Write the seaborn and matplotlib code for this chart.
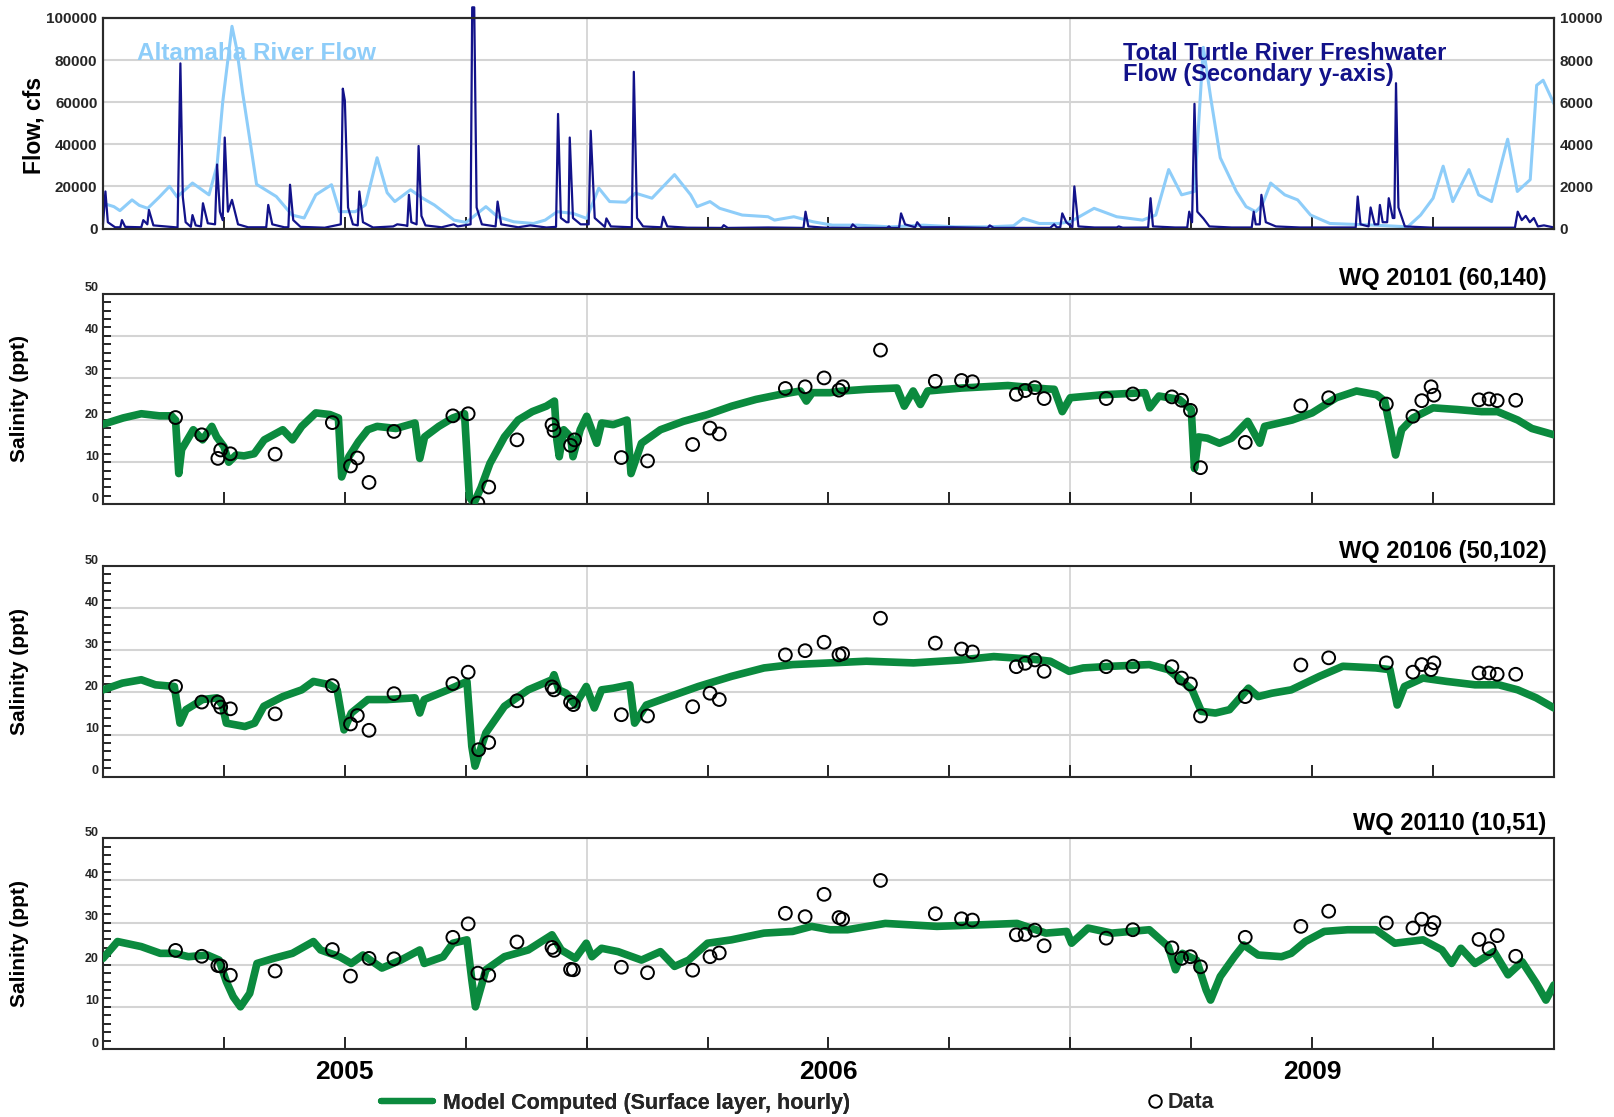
import numpy as np
import pandas as pd
import matplotlib
matplotlib.use("Agg")
import matplotlib.pyplot as plt
import matplotlib.transforms as mtransforms
from matplotlib.lines import Line2D
import seaborn as sns

# ---------------- data (x = month position on the 3-segment axis, 0..36) ----------------
year_labels = ["2005", "2006", "2009"]
year_label_pos = [6, 18, 30]
segment_breaks = [12, 24]
quarter_ticks = [3, 6, 9, 12, 15, 18, 21, 24, 27, 30, 33]

# Altamaha River flow (cfs, primary axis)
alt_month = [0, 0.27, 0.42, 0.72, 0.9, 1.11, 1.4, 1.65, 1.84, 2.22, 2.63, 2.83, 2.97, 3.2, 3.32,
             3.46, 3.66, 3.81, 4.30, 4.69, 4.99, 5.28, 5.67, 5.87, 6.26, 6.51, 6.80, 7.05, 7.24,
             7.63, 7.93, 8.22, 8.71, 9.01, 9.50, 9.79, 10.19, 10.68, 10.97, 11.27, 11.66, 12.0,
             12.3, 12.57, 12.97, 13.21, 13.62, 14.18, 14.58, 14.74, 15.06, 15.3, 15.86, 16.5,
             16.66, 17.14, 17.62, 18.1, 18.74, 19.54, 20.35, 21.15, 21.95, 22.59, 22.83, 23.23,
             23.71, 24.0, 24.59, 25.15, 25.79, 26.12, 26.44, 26.76, 27.08, 27.3, 27.48, 27.72,
             28.12, 28.36, 28.6, 28.76, 28.97, 29.32, 29.64, 29.96, 30.44, 31.56, 32.37, 32.69,
             33.0, 33.25, 33.49, 33.89, 34.13, 34.45, 34.85, 35.09, 35.41, 35.57, 35.73, 36.0]
alt_flow = [12000, 10400, 8500, 13600, 11000, 9600, 15000, 20000, 15000, 21600, 16000, 30000,
            60000, 96000, 85000, 65000, 40000, 21000, 15200, 6400, 5000, 16000, 20800, 8000,
            8000, 11200, 33600, 17000, 12800, 18400, 14400, 11200, 4000, 2900, 10400, 5600,
            3200, 2400, 4000, 8000, 7200, 4800, 19200, 12800, 12500, 16800, 14400, 25600,
            16000, 10400, 12800, 9600, 6400, 5600, 4000, 5600, 3200, 1600, 1600, 800, 1600,
            800, 800, 1300, 4800, 2400, 2400, 3200, 9600, 5600, 4000, 6400, 28000, 16000,
            17600, 86000, 62400, 33600, 17600, 10400, 8000, 11200, 21600, 16000, 13600, 6400,
            2400, 1600, 800, 6400, 14400, 29600, 12800, 28000, 16000, 12800, 42400, 17600,
            23200, 68000, 70400, 59200]

# Total Turtle River freshwater flow (cfs, secondary axis)
turtle_month = [0.0, 0.06, 0.12, 0.3, 0.43, 0.47, 0.55, 0.95, 1.0, 1.1,
                1.14, 1.25, 1.85, 1.92, 1.98, 2.05, 2.18, 2.22, 2.3, 2.43,
                2.48, 2.6, 2.78, 2.83, 2.9, 2.97, 3.02, 3.1, 3.2, 3.35,
                3.6, 4.05, 4.1, 4.2, 4.5, 4.6, 4.64, 4.72, 4.9, 5.5,
                5.9, 5.95, 6.0, 6.08, 6.2, 6.32, 6.36, 6.45, 6.7, 7.2,
                7.3, 7.5, 7.55, 7.59, 7.65, 7.78, 7.83, 7.9, 8.0, 8.4,
                8.7, 8.8, 9.12, 9.16, 9.21, 9.27, 9.4, 9.74, 9.79, 9.88,
                10.3, 10.6, 11.0, 11.24, 11.29, 11.36, 11.5, 11.55, 11.58, 11.66,
                11.85, 12.05, 12.1, 12.2, 12.45, 12.49, 12.6, 13.12, 13.17, 13.25,
                13.4, 13.85, 13.9, 14.0, 14.5, 15.35, 15.4, 15.5, 16.5, 17.38,
                17.43, 17.5, 17.9, 18.55, 18.6, 18.7, 19.45, 19.5, 19.55, 19.75,
                19.8, 19.9, 20.15, 20.2, 20.3, 21.1, 21.95, 22.0, 22.1, 23.5,
                23.6, 23.66, 23.75, 23.8, 23.9, 24.05, 24.1, 24.2, 24.6, 25.15,
                25.2, 25.3, 25.93, 25.99, 26.05, 26.6, 26.9, 26.95, 27.02, 27.08,
                27.15, 27.3, 27.45, 28.0, 28.5, 28.55, 28.6, 28.7, 28.74, 28.85,
                29.1, 29.7, 30.5, 31.08, 31.13, 31.2, 31.4, 31.45, 31.55, 31.64,
                31.68, 31.75, 31.86, 31.9, 32.0, 32.04, 32.08, 32.14, 32.3, 33.0,
                34.5, 35.03, 35.1, 35.2, 35.3, 35.4, 35.5, 35.6, 35.75, 36.0]
turtle_flow = [200, 1760, 300, 60, 60, 400, 80, 60, 400, 200,
               880, 150, 50, 7840, 1500, 300, 80, 640, 150, 100,
               1200, 250, 200, 3040, 800, 400, 4320, 800, 1360, 200,
               60, 60, 1120, 200, 60, 60, 2080, 400, 80, 40,
               200, 6640, 6080, 1000, 200, 150, 1760, 300, 50, 100,
               200, 150, 120, 1600, 300, 200, 3920, 600, 150, 60,
               200, 100, 200, 10500, 10500, 1000, 200, 100, 1280, 200,
               60, 150, 50, 80, 5440, 500, 300, 300, 4320, 500,
               200, 200, 4640, 500, 80, 480, 100, 60, 7440, 500,
               100, 60, 560, 100, 40, 30, 160, 30, 50, 30,
               800, 100, 40, 30, 200, 30, 30, 100, 30, 30,
               720, 200, 60, 300, 60, 60, 30, 150, 30, 30,
               200, 60, 60, 720, 300, 60, 2000, 100, 50, 50,
               100, 40, 50, 1440, 100, 50, 50, 800, 300, 5920,
               800, 480, 100, 50, 50, 800, 200, 200, 1600, 300,
               100, 50, 50, 50, 1520, 200, 100, 1000, 200, 200,
               1120, 300, 300, 1440, 500, 500, 6900, 1000, 100, 40,
               40, 40, 800, 400, 600, 300, 500, 100, 150, 50]

# WQ 20101 (60,140)
m1_month = [0, 0.5, 0.95, 1.4, 1.7, 1.8, 1.88, 1.95, 2.24, 2.47, 2.7, 2.82, 3.0, 3.12, 3.3, 3.5,
            3.75, 4.0, 4.46, 4.7, 4.93, 5.28, 5.63, 5.84, 5.92, 6.1, 6.34, 6.57, 6.8, 7.27, 7.74,
            7.86, 7.98, 8.33, 8.68, 8.97, 9.09, 9.2, 9.38, 9.6, 9.96, 10.3, 10.65, 11.0, 11.2,
            11.26, 11.32, 11.43, 11.6, 11.66, 11.84, 12.0, 12.25, 12.37, 12.66, 13.0, 13.1,
            13.36, 13.83, 14.4, 15.0, 15.6, 16.2, 16.76, 17.3, 17.45, 17.6, 18.04, 18.35, 18.94,
            19.7, 19.88, 20.1, 20.28, 20.46, 21.3, 22.45, 23.4, 23.6, 23.8, 24.0, 24.8, 25.85,
            25.97, 26.2, 26.7, 27.0, 27.08, 27.18, 27.4, 27.7, 28.0, 28.4, 28.7, 28.82, 29.5,
            30.0, 30.6, 31.1, 31.6, 31.8, 32.07, 32.22, 32.5, 33.0, 33.6, 34.2, 34.6, 35.1,
            35.45, 36.0]
m1_sal = [19, 20.5, 21.5, 21, 21, 20, 7.3, 13, 17.7, 15.3, 18.5, 16, 13.7, 10, 11.7, 11.5, 12,
          15.3, 17.7, 15.3, 18.5, 21.7, 21.3, 20.5, 6.5, 11.3, 14.9, 17.7, 18.5, 18, 19.3, 10.9,
          16, 18.5, 20.5, 21.5, 1.75, 0.2, 4, 9.7, 16, 20, 22, 23.3, 24.5, 15.3, 11.3, 17.7, 16,
          11.3, 17.7, 20.9, 14.5, 19.3, 18.9, 20, 7.3, 14.5, 17.7, 19.7, 21.3, 23.3, 24.9, 26,
          26.9, 24.5, 26.5, 26.5, 26.9, 27.3, 27.6, 23.3, 26.9, 23.7, 26.9, 27.6, 28.2, 27.4,
          27.3, 22, 25.3, 26, 26.5, 22.9, 25.7, 24.9, 22.5, 8.5, 16, 15.7, 14.5, 15.7, 19.7,
          14.5, 18.5, 20, 21.7, 25.3, 26.9, 26, 24.5, 11.7, 17.7, 20.5, 22.9, 22.5, 22, 22, 20,
          18, 16.5]
d1_month = [1.80, 2.45, 2.85, 2.92, 3.16, 4.27, 5.69, 6.14, 6.31, 6.60, 7.22, 8.68, 9.06, 9.30,
            9.57, 10.27, 11.14, 11.19, 11.60, 11.70, 12.86, 13.51, 14.63, 15.06, 15.29, 16.93,
            17.42, 17.89, 18.26, 18.35, 19.29, 20.65, 21.30, 21.57, 22.66, 22.88, 23.12, 23.35,
            24.89, 25.55, 26.52, 26.76, 26.98, 27.23, 28.34, 29.72, 30.41, 31.84, 32.50, 32.72,
            32.95, 33.02, 34.14, 34.39, 34.59, 35.05]
d1_sal = [20.6, 16.5, 10.9, 12.9, 12.0, 11.9, 19.4, 9.1, 11.0, 5.2, 17.3, 21.0, 21.5, 0.3, 4.1,
          15.3, 18.9, 17.5, 14.0, 15.3, 11.1, 10.3, 14.2, 18.1, 16.7, 27.5, 27.9, 30.0, 27.1,
          27.9, 36.6, 29.2, 29.4, 29.1, 26.1, 27.0, 27.7, 25.1, 25.1, 26.2, 25.5, 24.7, 22.3,
          8.7, 14.7, 23.4, 25.3, 23.8, 20.9, 24.6, 27.9, 25.9, 24.8, 25.0, 24.6, 24.7]

# WQ 20106 (50,102)
m2_month = [0, 0.48, 0.95, 1.3, 1.77, 1.91, 2.06, 2.47, 2.82, 2.96, 3.06, 3.29, 3.52, 3.76,
            3.99, 4.46, 4.93, 5.22, 5.63, 5.81, 5.98, 6.16, 6.57, 7.04, 7.74, 7.86, 7.97, 8.56,
            9.03, 9.15, 9.23, 9.5, 9.96, 10.55, 11.14, 11.19, 11.31, 11.49, 11.72, 11.99, 12.19,
            12.37, 12.66, 13.07, 13.19, 13.48, 14.06, 14.77, 15.59, 16.4, 17.11, 18.04, 18.94,
            20.11, 21.28, 22.1, 23.04, 23.5, 23.97, 24.32, 25.03, 25.96, 26.43, 26.78, 27.02,
            27.25, 27.6, 27.95, 28.42, 28.66, 29.0, 29.48, 30.18, 30.76, 31.58, 31.93, 32.11,
            32.29, 32.75, 33.34, 34.04, 34.63, 35.1, 35.56, 36.0]
m2_sal = [20.6, 22.2, 23, 21.8, 21.4, 12.7, 15.9, 18.3, 18.7, 17, 12.7, 12.3, 11.9, 12.7, 16.7,
          19, 20.6, 22.6, 21.8, 20.6, 11.1, 15.1, 18.3, 18.3, 18.7, 15.1, 18.3, 20.6, 22.6, 7.2,
          2.5, 10.4, 16.7, 20.6, 23, 24.2, 20.6, 19.8, 17, 21.4, 16.3, 20.6, 21, 21.8, 12.7, 17,
          19, 21.4, 23.8, 25.8, 26.6, 27, 27.4, 27, 27.7, 28.5, 27.9, 27.4, 25, 25.8, 26.2,
          26.6, 25.4, 22.6, 20.6, 15.5, 15.1, 15.9, 21, 19, 19.8, 20.6, 23.8, 26.2, 25.8, 25.4,
          17, 21.4, 23.4, 22.6, 21.8, 21.8, 20.6, 18.7, 16.3]
d2_month = [1.80, 2.45, 2.85, 2.92, 3.16, 4.27, 5.69, 6.14, 6.31, 6.60, 7.22, 8.68, 9.06, 9.32,
            9.57, 10.27, 11.14, 11.19, 11.60, 11.67, 12.86, 13.51, 14.63, 15.06, 15.29, 16.93,
            17.42, 17.89, 18.26, 18.35, 19.29, 20.65, 21.30, 21.57, 22.66, 22.88, 23.12, 23.35,
            24.89, 25.55, 26.52, 26.76, 26.98, 27.23, 28.34, 29.72, 30.41, 31.84, 32.50, 32.72,
            32.95, 33.02, 34.14, 34.39, 34.59, 35.05]
d2_sal = [21.4, 17.7, 17.7, 16.5, 16.1, 14.9, 21.6, 12.5, 14.5, 11.0, 19.7, 22.1, 24.8, 6.4, 8.1,
          18.0, 21.3, 20.6, 17.7, 17.1, 14.7, 14.4, 16.6, 19.8, 18.3, 28.9, 29.9, 31.9, 28.9,
          29.2, 37.6, 31.7, 30.3, 29.6, 26.1, 26.9, 27.7, 25.0, 26.1, 26.2, 26.1, 23.4, 22.0,
          14.4, 19.0, 26.5, 28.2, 27.0, 24.8, 26.6, 25.4, 27.0, 24.6, 24.6, 24.3, 24.3]

# WQ 20110 (10,51)
m3_month = [0, 0.36, 0.95, 1.42, 1.77, 2.12, 2.59, 2.88, 3.06, 3.23, 3.41, 3.64, 3.82, 4.23,
            4.7, 5.22, 5.4, 5.87, 6.16, 6.45, 6.92, 7.39, 7.86, 7.97, 8.44, 8.68, 9.03, 9.15,
            9.24, 9.5, 9.96, 10.55, 11.14, 11.37, 11.72, 11.99, 12.13, 12.37, 12.78, 13.36,
            13.83, 14.18, 14.53, 15.0, 15.59, 16.4, 17.11, 17.58, 18.04, 18.47, 19.41, 20.69,
            21.86, 22.68, 23.39, 23.91, 24.03, 24.44, 25.03, 25.96, 26.43, 26.61, 26.78, 27.13,
            27.37, 27.48, 27.72, 28.07, 28.3, 28.66, 29.24, 29.48, 29.83, 30.3, 30.88, 31.58,
            32.05, 32.75, 33.22, 33.46, 33.69, 34.04, 34.51, 34.86, 35.21, 35.56, 35.8, 36.0]
m3_sal = [21.5, 25.5, 24.3, 22.7, 22.7, 21.9, 22.3, 21.1, 16, 12.4, 10, 13.2, 20.3, 21.5, 22.7,
          25.5, 23.5, 21.9, 20.3, 22.3, 19.2, 21.1, 23.5, 20.3, 21.9, 25.1, 25.9, 16.4, 10,
          18.8, 21.9, 23.5, 27.1, 23.5, 21.5, 25.1, 21.9, 23.9, 23.1, 21.1, 23.1, 19.6, 21.1,
          25.1, 25.9, 27.5, 27.9, 29.1, 28.3, 28.3, 29.8, 29.1, 29.5, 29.8, 27.5, 27.9, 25.1,
          28.7, 27.5, 28.3, 24.3, 18.8, 22.7, 21.1, 14, 11.6, 17.2, 21.9, 24.7, 22.3, 21.9,
          22.7, 25.5, 27.9, 28.3, 28.3, 25.1, 25.9, 23.5, 20.3, 23.9, 20.3, 23.1, 17.6, 20.7,
          15.6, 11.6, 15.2]
d3_month = [1.80, 2.45, 2.85, 2.92, 3.16, 4.27, 5.69, 6.14, 6.60, 7.22, 8.68, 9.06, 9.30, 9.57,
            10.27, 11.14, 11.19, 11.60, 11.67, 12.86, 13.51, 14.63, 15.06, 15.29, 16.93, 17.42,
            17.89, 18.26, 18.35, 19.29, 20.65, 21.30, 21.57, 22.66, 22.88, 23.12, 23.35, 24.89,
            25.55, 26.52, 26.76, 26.98, 27.23, 28.34, 29.72, 30.41, 31.84, 32.50, 32.72, 32.95,
            33.02, 34.14, 34.39, 34.59, 35.05]
d3_sal = [23.4, 22.0, 19.8, 19.7, 17.5, 18.5, 23.6, 17.3, 21.5, 21.4, 26.5, 29.7, 18.0, 17.5,
          25.4, 24.1, 23.4, 18.9, 18.8, 19.4, 18.1, 18.7, 21.9, 22.8, 32.2, 31.4, 36.7, 31.2,
          30.8, 40.0, 32.1, 30.9, 30.6, 27.1, 27.2, 28.2, 24.5, 26.3, 28.3, 24.0, 21.5, 21.9,
          19.5, 26.5, 29.1, 32.7, 29.9, 28.7, 30.8, 28.4, 30.0, 26.0, 23.8, 26.9, 22.0]

titles = ["WQ 20101 (60,140)", "WQ 20106 (50,102)", "WQ 20110 (10,51)"]

# ---------------- style ----------------
sns.set_theme(style="white")
plt.rcParams['font.family'] = ['Liberation Sans', 'DejaVu Sans']
plt.rcParams['font.weight'] = 'bold'

GREEN = '#0b8a3e'
LIGHT = '#8ecdf9'
NAVY = '#12128a'
GRID = '#d4d4d4'
SPINE = '#2a2a2a'

W, H = 1614, 1117
fig = plt.figure(figsize=(W / 100, H / 100), dpi=100)
left, width = 103 / W, 1451 / W


def style_spines(ax):
    for s in ax.spines.values():
        s.set_visible(True)
        s.set_color(SPINE)
        s.set_linewidth(1.5)


def style_xaxis(ax):
    ax.set_xlim(0, 36)
    ax.set_xticks(quarter_ticks)
    ax.tick_params(axis='x', which='major', direction='in', length=9, width=1.2,
                   color='black', bottom=True, labelbottom=False)
    for b in segment_breaks:
        ax.axvline(b, color=GRID, lw=1.3, zorder=0)
    ax.set_xlabel('')


# ---------------- top panel: flows ----------------
ax0 = fig.add_axes([left, 0.7954, width, 0.1886])
sns.lineplot(x=alt_month, y=alt_flow, ax=ax0, color=LIGHT, lw=2.2)
ax0.set_ylim(0, 100000)
ax0.set_yticks(np.arange(0, 100001, 20000))
ax0.set_yticklabels([f"{v:d}" for v in range(0, 100001, 20000)])
ax0.yaxis.grid(True, color=GRID, lw=1.5)
ax0.set_axisbelow(True)
ax0.tick_params(axis='y', length=0, labelsize=11, pad=4)
style_xaxis(ax0)
ax0.set_ylabel('')
style_spines(ax0)

ax0r = ax0.twinx()
sns.lineplot(x=turtle_month, y=turtle_flow, ax=ax0r, color=NAVY, lw=1.6, clip_on=False)
ax0r.set_ylim(0, 10000)
ax0r.set_yticks(np.arange(0, 10001, 2000))
ax0r.set_yticklabels([f"{v:d}" for v in range(0, 10001, 2000)])
ax0r.tick_params(axis='y', length=0, labelsize=11, pad=4)
ax0r.set_ylabel('')
ax0r.set_xlim(0, 36)
style_spines(ax0r)

fig.text(34 / W, 1 - 125 / H, "Flow, cfs", rotation=90, ha='center', va='center',
         fontsize=16.5, fontweight='bold', color='black')
fig.text(137 / W, 1 - 54 / H, "Altamaha River Flow", ha='left', va='center',
         fontsize=17.5, fontweight='bold', color=LIGHT)
fig.text(1123 / W, 1 - 64 / H, "Total Turtle River Freshwater\nFlow (Secondary y-axis)",
         ha='left', va='center', fontsize=17, fontweight='bold', color=NAVY, linespacing=0.88)

# ---------------- salinity panels ----------------
bottoms = [0.5485, 0.3047, 0.0609]
series = [(m1_month, m1_sal, d1_month, d1_sal),
          (m2_month, m2_sal, d2_month, d2_sal),
          (m3_month, m3_sal, d3_month, d3_sal)]
offset = mtransforms.ScaledTranslation(0, 5 / 72, fig.dpi_scale_trans)

axes = []
for b, (mm, mv, dm, dv), title in zip(bottoms, series, titles):
    ax = fig.add_axes([left, b, width, 0.1886])
    axes.append(ax)
    sns.lineplot(x=mm, y=mv, ax=ax, color=GREEN, lw=5.5, zorder=3,
                 solid_joinstyle='round', solid_capstyle='round')
    sns.scatterplot(x=dm, y=dv, ax=ax, marker='o', s=85, facecolor='none',
                    edgecolor='black', linewidth=1.4, zorder=5)
    ax.set_ylim(0, 50)
    ax.set_yticks(np.arange(0, 51, 10))
    ax.set_yticks(np.arange(0, 51, 2), minor=True)
    ax.set_yticklabels([str(v) for v in range(0, 51, 10)])
    ax.tick_params(axis='y', which='both', direction='in', left=True, length=6, width=1.2,
                   color='black', labelsize=9, pad=3)
    for lab in ax.get_yticklabels():
        lab.set_transform(lab.get_transform() + offset)
    ax.yaxis.grid(True, which='major', color=GRID, lw=1.5)
    ax.set_axisbelow(True)
    style_xaxis(ax)
    ax.set_ylabel('')
    style_spines(ax)
    ax.text(0.995, 1.015, title, transform=ax.transAxes, ha='right', va='bottom',
            fontsize=17, fontweight='bold', color='black')
    fig.text(19.5 / W, b + 0.1886 / 2, "Salinity (ppt)", rotation=90, ha='center',
             va='center', fontsize=15, fontweight='bold', color='black')

# year labels under bottom panel
axb = axes[-1]
trans = mtransforms.blended_transform_factory(axb.transData, axb.transAxes)
for pos, lab in zip(year_label_pos, year_labels):
    axb.text(pos, -0.11, lab, transform=trans, ha='center', va='center',
             fontsize=19, fontweight='bold', color='black')

# ---------------- legend ----------------
h_line = Line2D([], [], color=GREEN, lw=4.5)
h_dot = Line2D([], [], color='black', marker='o', markerfacecolor='none', markersize=9,
               markeredgewidth=1.4, linestyle='none')
leg1 = fig.legend([h_line], ["Model Computed (Surface layer, hourly)"], loc='center left',
                  bbox_to_anchor=(381 / W, 1 - 1103 / H), frameon=False, borderpad=0,
                  borderaxespad=0, handlelength=2.4, handletextpad=0.5,
                  prop={'size': 15.5, 'weight': 'bold'})
fig.add_artist(leg1)
fig.legend([h_dot], ["Data"], loc='center left', bbox_to_anchor=(1146 / W, 1 - 1103 / H),
           frameon=False, borderpad=0, borderaxespad=0, handlelength=0.8, handletextpad=0.2,
           prop={'size': 15.5, 'weight': 'bold'})

fig.savefig("out.png", dpi=100)
